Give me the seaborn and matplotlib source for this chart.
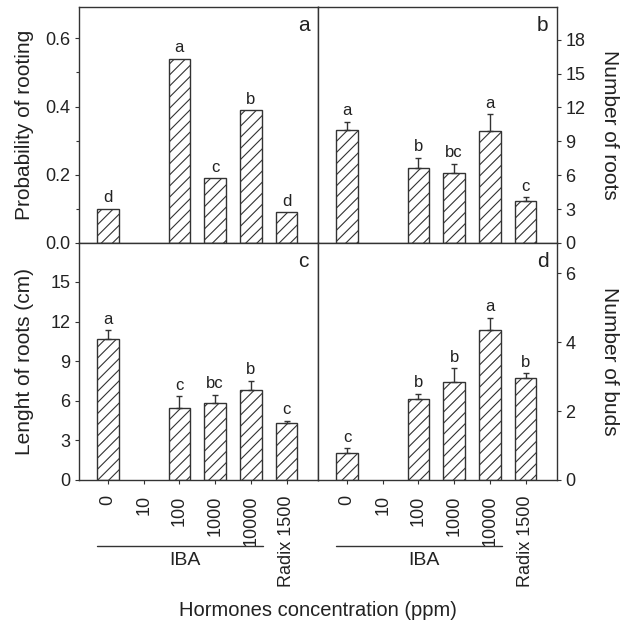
import numpy as np
import pandas as pd
import seaborn as sns
import matplotlib.pyplot as plt
from matplotlib.ticker import MultipleLocator

sns.set_theme(style="ticks")
plt.rcParams['font.family'] = ['Liberation Sans', 'DejaVu Sans']
plt.rcParams['hatch.color'] = '#333333'
plt.rcParams['hatch.linewidth'] = 0.8

# Data
categories = ["0", "10", "100", "1000", "10000", "Radix 1500"]
nan = np.nan

rooting_prob = [0.10, nan, 0.54, 0.19, 0.39, 0.09]
rooting_err = [0, nan, 0, 0, 0, 0]
rooting_letters = ["d", "", "a", "c", "b", "d"]

roots_num = [10.0, nan, 6.6, 6.2, 9.9, 3.7]
roots_num_err = [0.75, nan, 0.95, 0.8, 1.5, 0.35]
roots_num_letters = ["a", "", "b", "bc", "a", "c"]

roots_len = [10.65, nan, 5.45, 5.8, 6.8, 4.35]
roots_len_err = [0.7, nan, 0.9, 0.65, 0.7, 0.15]
roots_len_letters = ["a", "", "c", "bc", "b", "c"]

buds_num = [0.77, nan, 2.35, 2.85, 4.35, 2.97]
buds_err = [0.15, nan, 0.15, 0.4, 0.36, 0.13]
buds_letters = ["c", "", "b", "b", "a", "b"]

line_col = '#333333'

fig = plt.figure(figsize=(6.3, 6.24), dpi=100)
w = 0.3794
ax_a = fig.add_axes([0.1254, 0.6106, w, 0.3782])
ax_b = fig.add_axes([0.5048, 0.6106, w, 0.3782])
ax_c = fig.add_axes([0.1254, 0.2308, w, 0.3798])
ax_d = fig.add_axes([0.5048, 0.2308, w, 0.3798])


def draw_panel(ax, values, errs, letters, ylim, step, ylabel, tag, right, bottom, minor=None):
    df = pd.DataFrame({"conc": categories, "val": values}).dropna()
    sns.barplot(data=df, x="conc", y="val", order=categories, width=0.6,
                color="white", edgecolor=line_col, linewidth=1, errorbar=None, ax=ax)
    for p in ax.patches:
        p.set_facecolor("white")
        p.set_hatch("///")
        p.set_edgecolor(line_col)

    xs = [i for i, v in enumerate(values) if not np.isnan(v)]
    vs = [values[i] for i in xs]
    es = [errs[i] for i in xs]
    if any(e > 0 for e in es):
        ax.errorbar(xs, vs, yerr=[np.zeros(len(es)), es], fmt="none",
                    ecolor=line_col, elinewidth=1, capsize=2.5, capthick=1)
    for i in xs:
        ax.annotate(letters[i], (i, values[i] + errs[i]), xytext=(0, 2.5),
                    textcoords="offset points", ha="center", va="bottom",
                    fontsize=12, color="#222222")

    ax.set_xlim(-0.81, 5.88)
    ax.set_ylim(0, ylim)
    ax.yaxis.set_major_locator(MultipleLocator(step))
    if minor:
        ax.yaxis.set_minor_locator(MultipleLocator(minor))
    if step < 1:
        ax.yaxis.set_major_formatter(plt.FormatStrFormatter('%.1f'))
    else:
        ax.yaxis.set_major_formatter(plt.FormatStrFormatter('%d'))

    for s in ax.spines.values():
        s.set_visible(True)
        s.set_color(line_col)
        s.set_linewidth(1)

    ax.set_xlabel("")
    ax.set_ylabel(ylabel, fontsize=15, color="#222222")
    if right:
        ax.yaxis.tick_right()
        ax.yaxis.set_label_position("right")
        ax.yaxis.set_label_coords(1.22, 0.5)
        ax.yaxis.label.set(rotation=270, va="center", ha="center", rotation_mode="default")
        ax.tick_params(axis="y", which="both", left=False, right=True)
    else:
        ax.yaxis.set_label_coords(-0.226, 0.5)
        ax.yaxis.label.set(rotation=90, va="center", ha="center", rotation_mode="default")
        ax.tick_params(axis="y", which="both", left=True, right=False)
    ax.tick_params(axis="y", which="major", direction="out", length=3, width=0.8,
                   labelsize=13, colors=line_col, labelcolor="#222222", pad=3)
    ax.tick_params(axis="y", which="minor", direction="out", length=2, width=0.8, colors=line_col)

    if bottom:
        ax.set_xticks(range(len(categories)))
        ax.set_xticklabels(categories, rotation=90, va="top", ha="center")
        ax.tick_params(axis="x", direction="out", length=3, width=0.8, colors=line_col,
                       labelsize=13, labelcolor="#222222", pad=8)
        trans = ax.get_xaxis_transform()
        ax.plot([-0.3, 4.35], [-0.278, -0.278], color=line_col, lw=1,
                transform=trans, clip_on=False)
        ax.text(2.15, -0.305, "IBA", transform=trans, ha="center", va="top",
                fontsize=14, color="#222222")
    else:
        ax.tick_params(axis="x", bottom=False, labelbottom=False)

    ax.text(0.94, 0.92, tag, transform=ax.transAxes, ha="center", va="center",
            fontsize=15, color="#222222")


draw_panel(ax_a, rooting_prob, rooting_err, rooting_letters, 0.692, 0.2,
           "Probability of rooting", "a", right=False, bottom=False, minor=0.1)
draw_panel(ax_b, roots_num, roots_num_err, roots_num_letters, 20.9, 3,
           "Number of roots", "b", right=True, bottom=False)
draw_panel(ax_c, roots_len, roots_len_err, roots_len_letters, 17.95, 3,
           "Lenght of roots (cm)", "c", right=False, bottom=True)
draw_panel(ax_d, buds_num, buds_err, buds_letters, 6.88, 2,
           "Number of buds", "d", right=True, bottom=True)

fig.text(0.505, 0.0224, "Hormones concentration (ppm)", ha="center", va="center",
         fontsize=14.5, color="#222222")

fig.savefig("out.png", dpi=100)
